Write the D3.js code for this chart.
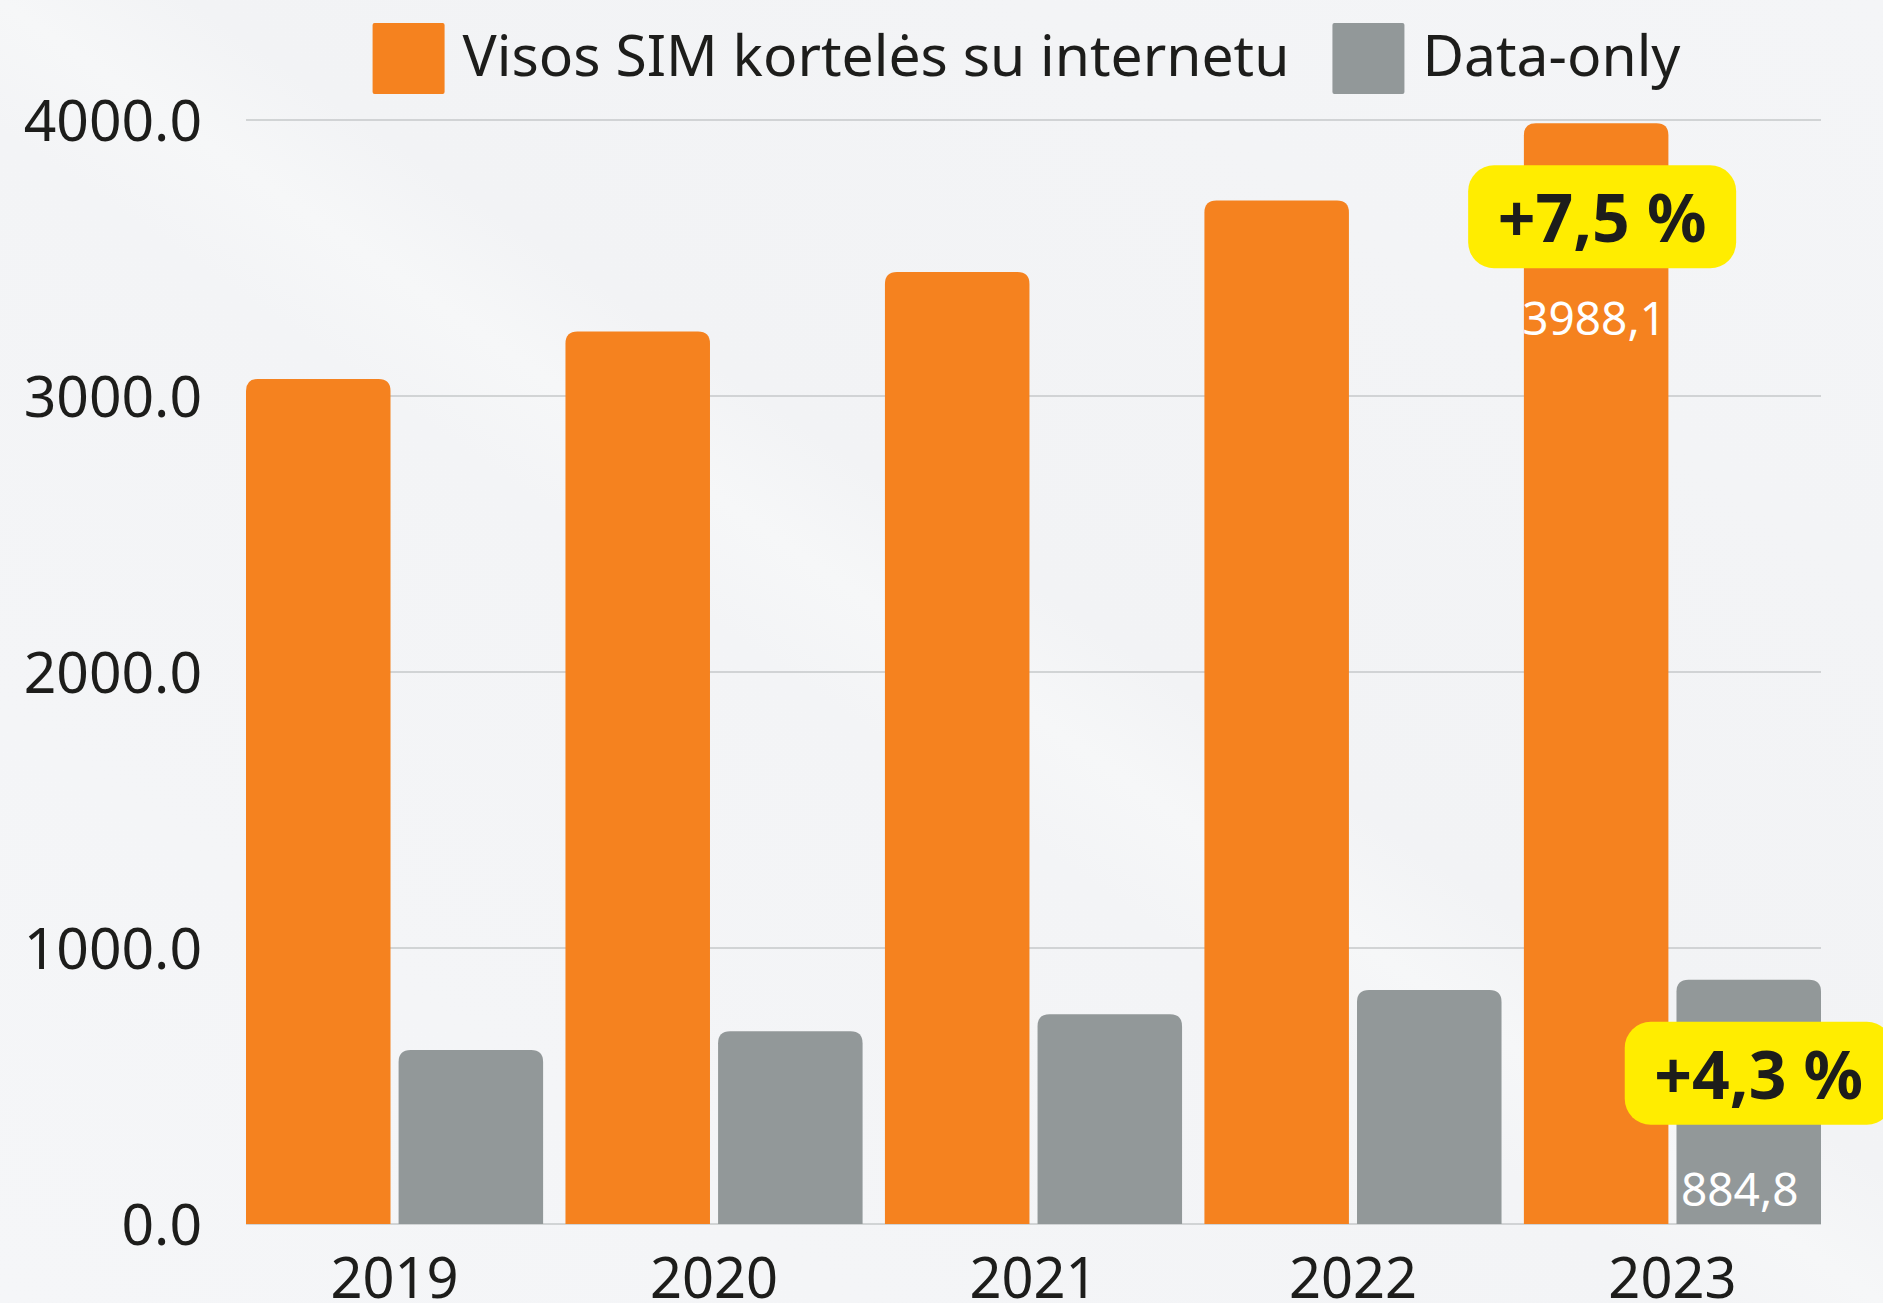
<!DOCTYPE html>
<html>
<head>
<meta charset="utf-8">
<script src="https://cdn.jsdelivr.net/npm/d3@7"></script>
<style>
  html, body { margin: 0; padding: 0; background: #f3f4f6; }
  svg { display: block; font-family: "Noto Sans", "Open Sans", sans-serif; }
</style>
</head>
<body>
<div id="chart"></div>
<script>
// data
const years = ["2019", "2020", "2021", "2022", "2023"];
const seriesNames = ["Visos SIM kortelės su internetu", "Data-only"];
const allSim = [3062, 3234, 3449, 3708, 3988.1];
const dataOnly = [630, 698, 760, 848, 884.8];
const yTicks = [0, 1000, 2000, 3000, 4000];
const growthLabels = ["+7,5 %", "+4,3 %"];

const W = 1883, H = 1303;
const colors = ["#f5821f", "#929899"];
const margin = { left: 246, right: 62, top: 120, bottom: 79 };

const svg = d3.select("#chart").append("svg")
    .attr("width", W)
    .attr("height", H);

// background with faint diagonal sheen
const defs = svg.append("defs");
const bg = defs.append("linearGradient").attr("id", "bg")
    .attr("x1", "0").attr("y1", "1").attr("x2", "1").attr("y2", "0");
bg.append("stop").attr("offset", "0").attr("stop-color", "#f5f6f8");
bg.append("stop").attr("offset", "0.45").attr("stop-color", "#f3f4f6");
bg.append("stop").attr("offset", "0.5").attr("stop-color", "#f6f7f8");
bg.append("stop").attr("offset", "0.55").attr("stop-color", "#f2f3f5");
bg.append("stop").attr("offset", "1").attr("stop-color", "#f4f5f7");
svg.append("rect").attr("width", W).attr("height", H).attr("fill", "url(#bg)");

const x0 = d3.scaleBand()
    .domain(years)
    .range([margin.left, W - margin.right])
    .paddingInner(0.07)
    .paddingOuter(0);

const x1 = d3.scaleBand()
    .domain([0, 1])
    .range([0, x0.bandwidth()])
    .paddingInner(0.053);

const y = d3.scaleLinear()
    .domain([0, 4000])
    .range([H - margin.bottom, margin.top]);

// gridlines
svg.append("g")
    .selectAll("line")
    .data(yTicks)
    .enter()
    .append("line")
    .attr("x1", margin.left)
    .attr("x2", W - margin.right)
    .attr("y1", d => y(d))
    .attr("y2", d => y(d))
    .attr("stroke", "#c6c8ca")
    .attr("stroke-width", 1.5);

// y labels
svg.append("g")
    .selectAll("text")
    .data(yTicks)
    .enter()
    .append("text")
    .attr("x", 202)
    .attr("y", d => y(d))
    .attr("dy", "0.36em")
    .attr("text-anchor", "end")
    .attr("font-size", 57)
    .attr("fill", "#1d1d1b")
    .text(d => d3.format(".1f")(d));

// bars, rounded on top only
function topRounded(x, yTop, w, h, r) {
    r = Math.min(r, h);
    return `M${x},${yTop + h}V${yTop + r}Q${x},${yTop} ${x + r},${yTop}` +
        `H${x + w - r}Q${x + w},${yTop} ${x + w},${yTop + r}V${yTop + h}Z`;
}

const rows = years.map((yr, i) => ({ year: yr, values: [allSim[i], dataOnly[i]] }));

const groups = svg.append("g")
    .selectAll("g")
    .data(rows)
    .enter()
    .append("g")
    .attr("transform", d => `translate(${x0(d.year)},0)`);

groups.selectAll("path")
    .data(d => d.values.map((v, s) => ({ v: v, s: s })))
    .enter()
    .append("path")
    .attr("d", d => topRounded(x1(d.s), y(d.v), x1.bandwidth(), y(0) - y(d.v), 12))
    .attr("fill", d => colors[d.s]);

// x labels (clipped at the bottom edge like the original)
svg.append("g")
    .selectAll("text")
    .data(years)
    .enter()
    .append("text")
    .attr("x", d => x0(d) + x0.bandwidth() / 2)
    .attr("y", 1298)
    .attr("text-anchor", "middle")
    .attr("font-size", 56)
    .attr("fill", "#1d1d1b")
    .text(d => d);

// annotations on last year
const last = years[years.length - 1];
const lastVals = [allSim[allSim.length - 1], dataOnly[dataOnly.length - 1]];
const comma = v => d3.format(".1f")(v).replace(".", ",");

lastVals.forEach((v, s) => {
    const cx = x0(last) + x1(s) + x1.bandwidth() / 2;
    const top = y(v);
    const bx = cx + (s === 0 ? 6 : 10);
    const by = top + 42;
    const ann = svg.append("g");
    ann.append("rect")
        .attr("x", bx - 134)
        .attr("y", by)
        .attr("width", 268)
        .attr("height", 103)
        .attr("rx", 26)
        .attr("fill", "#ffed00");
    ann.append("text")
        .attr("x", bx)
        .attr("y", by + 77)
        .attr("text-anchor", "middle")
        .attr("font-size", 66)
        .attr("font-weight", "bold")
        .attr("fill", "#1d1d1b")
        .text(growthLabels[s]);
    ann.append("text")
        .attr("x", cx - (s === 0 ? 2 : 9))
        .attr("y", s === 0 ? top + 212 : y(0) - 18)
        .attr("text-anchor", "middle")
        .attr("font-size", 46)
        .attr("fill", "#ffffff")
        .text(comma(v));
});

// legend, centred over the plot
const legend = svg.append("g");
const items = legend.selectAll("g")
    .data(seriesNames)
    .enter()
    .append("g");
items.append("rect")
    .attr("width", 72)
    .attr("height", 71)
    .attr("y", 23)
    .attr("rx", 2)
    .attr("fill", (d, i) => colors[i]);
items.append("text")
    .attr("x", 90)
    .attr("y", 76)
    .attr("font-size", 57)
    .attr("fill", "#1d1d1b")
    .text(d => d);

let xpos = 0;
items.each(function () {
    const g = d3.select(this);
    g.attr("transform", `translate(${xpos},0)`);
    xpos += 90 + g.select("text").node().getComputedTextLength() + 43;
});
const legendW = xpos - 43;
legend.attr("transform", `translate(${(margin.left + W - margin.right) / 2 - legendW / 2 - 7},0)`);
</script>
</body>
</html>
